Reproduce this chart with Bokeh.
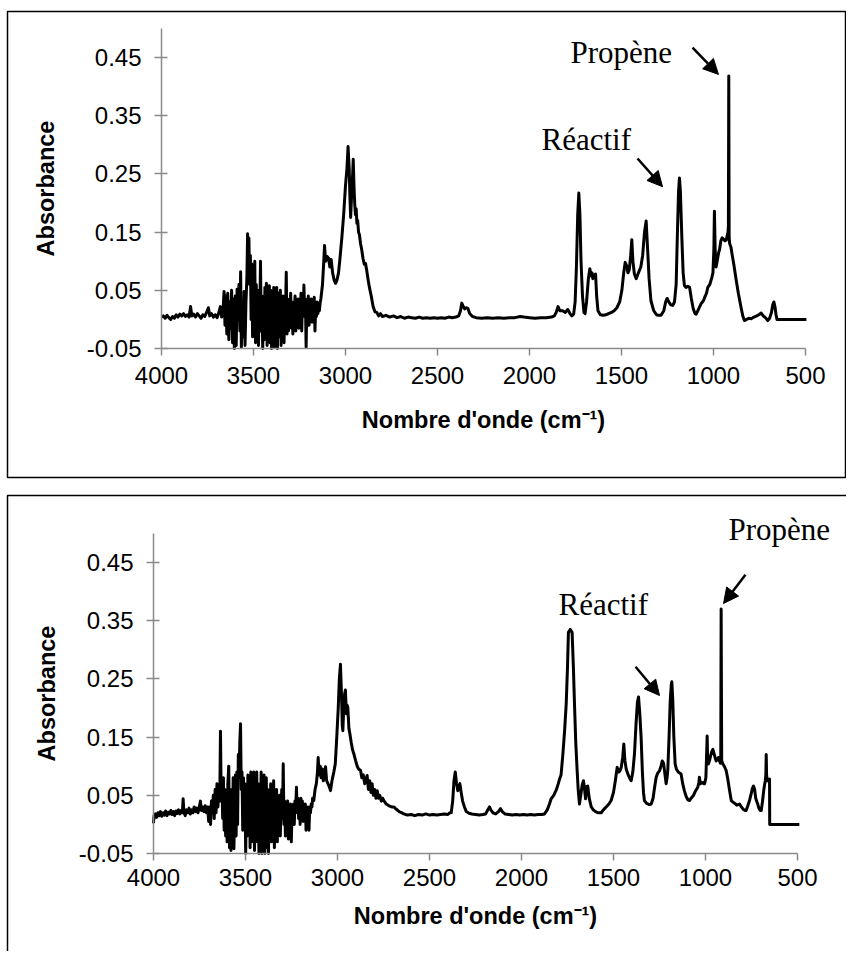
from bokeh.plotting import figure
from bokeh.layouts import column
from bokeh.models import (Range1d, FixedTicker, PrintfTickFormatter, Label, Arrow,
                          NormalHead, BoxAnnotation, LinearAxis)
from bokeh.embed import file_html
from bokeh.resources import INLINE

# ---------------- data ----------------
x_ticks = [4000, 3500, 3000, 2500, 2000, 1500, 1000, 500]
y_ticks = [-0.05, 0.05, 0.15, 0.25, 0.35, 0.45]
x_bounds = (500, 4000)
y_bounds = (-0.05, 0.5)
x_label = "Nombre d'onde (cm\u207b\u00b9)"
y_label = "Absorbance"
annot_product = "Propène"
annot_reagent = "Réactif"

# (wavenumber cm-1, absorbance)
top_spectrum = [
    (4000, 0.004), (3990, 0.006), (3980, 0.002), (3970, 0.007), (3960, 0.003), (3950, 0.000),
    (3940, 0.005), (3930, 0.002), (3920, 0.008), (3910, 0.004), (3900, 0.009), (3890, 0.006),
    (3880, 0.010), (3870, 0.005), (3860, 0.008), (3850, 0.004), (3842, 0.022), (3835, 0.006),
    (3825, 0.009), (3815, 0.004), (3805, 0.010), (3795, 0.006), (3785, 0.002), (3775, 0.008),
    (3765, 0.005), (3755, 0.012), (3745, 0.020), (3738, 0.006), (3728, 0.010), (3718, 0.004),
    (3708, 0.008), (3698, 0.003), (3690, 0.010), (3680, 0.022), (3673, 0.004), (3666, 0.012),
    (3660, 0.048), (3655, -0.010), (3650, 0.040), (3645, -0.025), (3640, 0.045), (3634, -0.035),
    (3629, 0.030), (3624, -0.015), (3619, 0.050), (3614, -0.040), (3609, 0.035), (3604, -0.050),
    (3599, 0.040), (3594, -0.045), (3589, 0.052), (3584, 0.000), (3579, 0.060), (3574, -0.020),
    (3570, 0.082), (3566, -0.048), (3561, 0.020), (3556, -0.030), (3551, 0.048), (3546, -0.045),
    (3541, 0.030), (3536, 0.070), (3532, 0.147), (3528, 0.100), (3525, 0.140), (3521, 0.060),
    (3517, 0.110), (3513, 0.000), (3509, 0.095), (3505, -0.030), (3501, 0.080), (3497, 0.020),
    (3493, 0.100), (3489, -0.040), (3485, 0.060), (3481, -0.010), (3477, 0.050), (3473, -0.045),
    (3469, 0.040), (3465, 0.020), (3462, 0.100), (3458, -0.020), (3454, 0.040), (3450, -0.050),
    (3446, 0.030), (3442, -0.035), (3438, 0.055), (3434, 0.000), (3430, 0.062), (3426, -0.045),
    (3422, 0.045), (3418, 0.010), (3414, 0.058), (3410, -0.040), (3406, 0.050), (3402, -0.050),
    (3398, 0.045), (3394, 0.005), (3390, 0.055), (3386, -0.048), (3382, 0.040), (3378, -0.010),
    (3374, 0.055), (3370, -0.050), (3366, 0.030), (3362, 0.045), (3358, -0.030), (3354, 0.050),
    (3350, -0.045), (3346, 0.035), (3342, -0.005), (3338, 0.040), (3334, -0.040), (3330, 0.030),
    (3326, 0.010), (3322, 0.081), (3318, -0.025), (3314, 0.035), (3310, -0.020), (3306, 0.030),
    (3302, 0.005), (3298, 0.045), (3294, -0.015), (3290, 0.030), (3286, -0.025), (3282, 0.025),
    (3278, 0.010), (3274, 0.040), (3270, -0.020), (3266, 0.025), (3262, 0.000), (3258, 0.035),
    (3254, -0.015), (3250, 0.030), (3246, 0.010), (3242, 0.045), (3238, -0.020), (3234, 0.030),
    (3230, 0.005), (3226, 0.059), (3222, 0.010), (3218, 0.035), (3214, -0.048), (3210, 0.030),
    (3206, 0.015), (3202, 0.040), (3198, -0.010), (3194, 0.030), (3190, 0.005), (3186, 0.035),
    (3182, -0.005), (3178, 0.030), (3174, 0.020), (3170, 0.038), (3166, -0.020), (3162, 0.020),
    (3158, 0.005), (3154, 0.030), (3150, 0.010), (3146, 0.025), (3142, 0.015), (3138, 0.028),
    (3134, 0.035), (3125, 0.060), (3118, 0.100), (3114, 0.127), (3108, 0.100), (3100, 0.108),
    (3092, 0.105), (3085, 0.090), (3078, 0.103), (3070, 0.080), (3062, 0.068), (3054, 0.062),
    (3046, 0.068), (3038, 0.080), (3030, 0.105), (3020, 0.140), (3010, 0.180), (3000, 0.230),
    (2992, 0.260), (2986, 0.297), (2980, 0.260), (2976, 0.210), (2972, 0.175), (2966, 0.220),
    (2961, 0.250), (2958, 0.275), (2954, 0.230), (2950, 0.200), (2946, 0.180), (2942, 0.190),
    (2938, 0.165), (2934, 0.170), (2929, 0.150), (2924, 0.145), (2918, 0.130), (2912, 0.120),
    (2905, 0.105), (2898, 0.095), (2891, 0.096), (2885, 0.085), (2878, 0.070), (2870, 0.055),
    (2860, 0.040), (2850, 0.022), (2840, 0.013), (2830, 0.012), (2820, 0.006), (2810, 0.010),
    (2800, 0.005), (2780, 0.007), (2760, 0.004), (2740, 0.006), (2720, 0.003), (2700, 0.005),
    (2680, 0.002), (2660, 0.004), (2640, 0.003), (2620, 0.002), (2600, 0.004), (2580, 0.002),
    (2560, 0.003), (2540, 0.002), (2520, 0.003), (2500, 0.002), (2480, 0.003), (2460, 0.002),
    (2440, 0.004), (2420, 0.003), (2400, 0.004), (2385, 0.006), (2375, 0.015), (2368, 0.028),
    (2360, 0.022), (2352, 0.018), (2345, 0.020), (2335, 0.019), (2325, 0.010), (2310, 0.005),
    (2290, 0.003), (2260, 0.002), (2230, 0.003), (2200, 0.002), (2170, 0.003), (2140, 0.002),
    (2110, 0.003), (2080, 0.003), (2050, 0.005), (2030, 0.004), (2000, 0.003), (1970, 0.002),
    (1940, 0.003), (1910, 0.003), (1880, 0.004), (1865, 0.006), (1855, 0.012), (1845, 0.022),
    (1835, 0.015), (1820, 0.015), (1805, 0.012), (1792, 0.017), (1780, 0.010), (1770, 0.006),
    (1760, 0.009), (1752, 0.030), (1745, 0.090), (1738, 0.180), (1732, 0.217), (1726, 0.180),
    (1720, 0.100), (1712, 0.040), (1704, 0.012), (1698, 0.010), (1690, 0.030), (1680, 0.070),
    (1672, 0.087), (1666, 0.075), (1660, 0.080), (1656, 0.070), (1648, 0.075), (1641, 0.078),
    (1635, 0.040), (1628, 0.015), (1615, 0.008), (1600, 0.007), (1585, 0.008), (1570, 0.010),
    (1555, 0.012), (1540, 0.015), (1525, 0.020), (1510, 0.030), (1498, 0.050), (1488, 0.080),
    (1480, 0.098), (1472, 0.092), (1465, 0.080), (1458, 0.085), (1450, 0.110), (1444, 0.137),
    (1438, 0.100), (1430, 0.078), (1420, 0.070), (1408, 0.080), (1395, 0.090), (1385, 0.110),
    (1375, 0.150), (1366, 0.169), (1358, 0.120), (1350, 0.070), (1340, 0.032), (1325, 0.015),
    (1310, 0.008), (1300, 0.007), (1285, 0.007), (1270, 0.015), (1260, 0.030), (1252, 0.036),
    (1243, 0.030), (1232, 0.025), (1222, 0.024), (1212, 0.030), (1203, 0.060), (1196, 0.150),
    (1190, 0.220), (1185, 0.243), (1180, 0.220), (1172, 0.140), (1165, 0.080), (1158, 0.058),
    (1150, 0.055), (1140, 0.057), (1130, 0.055), (1120, 0.035), (1110, 0.018), (1100, 0.010),
    (1094, 0.009), (1085, 0.015), (1075, 0.022), (1067, 0.027), (1055, 0.032), (1045, 0.040),
    (1038, 0.045), (1031, 0.055), (1020, 0.060), (1010, 0.071), (1003, 0.080), (998, 0.120),
    (995, 0.186), (991, 0.120), (986, 0.090), (980, 0.100), (972, 0.115), (967, 0.120),
    (960, 0.135), (953, 0.140), (945, 0.138), (938, 0.135), (931, 0.136), (925, 0.145),
    (921, 0.150), (919, 0.160), (917, 0.418), (915, 0.140), (912, 0.130), (905, 0.124),
    (898, 0.110), (890, 0.095), (877, 0.068), (865, 0.045), (850, 0.020), (840, 0.005),
    (832, -0.002), (820, 0.000), (808, 0.002), (795, 0.001), (780, 0.004), (765, 0.006),
    (750, 0.009), (741, 0.011), (730, 0.006), (718, 0.003), (705, -0.002), (695, 0.002),
    (685, 0.012), (678, 0.025), (672, 0.030), (666, 0.022), (660, 0.008), (655, 0.000),
    (651, 0.000), (620, 0.000), (560, 0.000), (495, 0.000),
]

# (wavenumber cm-1, absorbance)
bottom_spectrum = [
    (4000, 0.002), (3997, 0.015), (3990, 0.018), (3983, 0.012), (3976, 0.020), (3969, 0.015),
    (3962, 0.022), (3955, 0.014), (3948, 0.020), (3941, 0.016), (3934, 0.023), (3927, 0.015),
    (3920, 0.021), (3913, 0.018), (3906, 0.024), (3899, 0.017), (3892, 0.022), (3885, 0.015),
    (3878, 0.023), (3871, 0.019), (3864, 0.025), (3857, 0.018), (3850, 0.024), (3843, 0.020),
    (3839, 0.044), (3835, 0.022), (3828, 0.015), (3821, 0.025), (3814, 0.020), (3807, 0.028),
    (3800, 0.018), (3793, 0.025), (3786, 0.020), (3779, 0.030), (3772, 0.022), (3765, 0.028),
    (3758, 0.020), (3751, 0.030), (3745, 0.040), (3740, 0.024), (3733, 0.030), (3726, 0.022),
    (3719, 0.032), (3712, 0.020), (3706, 0.030), (3700, 0.005), (3695, 0.030), (3690, 0.000),
    (3685, 0.040), (3680, 0.020), (3675, 0.050), (3670, 0.010), (3665, 0.060), (3660, 0.020),
    (3655, 0.070), (3650, 0.030), (3645, 0.060), (3640, 0.040), (3636, 0.160), (3632, 0.040),
    (3628, 0.070), (3624, 0.010), (3620, 0.080), (3616, -0.010), (3612, 0.060), (3608, -0.020),
    (3604, 0.050), (3600, -0.030), (3596, 0.070), (3591, 0.100), (3587, -0.040), (3583, 0.040),
    (3579, -0.045), (3575, 0.060), (3571, -0.030), (3567, 0.080), (3563, -0.042), (3559, 0.030),
    (3555, 0.085), (3551, -0.020), (3547, 0.090), (3543, 0.000), (3539, 0.120), (3535, 0.080),
    (3531, 0.140), (3527, 0.173), (3523, 0.060), (3519, 0.090), (3515, -0.010), (3511, 0.080),
    (3507, 0.020), (3503, 0.070), (3499, -0.050), (3495, 0.060), (3491, -0.020), (3487, 0.085),
    (3483, 0.000), (3479, 0.070), (3475, -0.040), (3471, 0.090), (3467, -0.030), (3463, 0.060),
    (3459, 0.010), (3455, 0.090), (3451, -0.045), (3447, 0.080), (3443, -0.010), (3439, 0.090),
    (3435, -0.030), (3431, 0.070), (3427, -0.050), (3423, 0.060), (3419, 0.000), (3415, 0.090),
    (3411, -0.050), (3407, 0.075), (3403, -0.020), (3399, 0.085), (3395, -0.050), (3391, 0.040),
    (3387, 0.080), (3383, -0.040), (3379, 0.060), (3375, -0.050), (3371, 0.050), (3367, 0.000),
    (3363, 0.070), (3359, -0.030), (3355, 0.060), (3351, -0.010), (3347, 0.075), (3343, -0.040),
    (3339, 0.050), (3335, 0.010), (3331, 0.060), (3327, -0.030), (3323, 0.040), (3319, 0.000),
    (3315, 0.050), (3311, -0.020), (3307, 0.030), (3303, 0.060), (3299, 0.010), (3295, 0.104),
    (3291, 0.000), (3287, 0.040), (3283, -0.020), (3279, 0.030), (3275, 0.010), (3271, 0.040),
    (3267, -0.025), (3263, 0.030), (3259, 0.000), (3255, 0.035), (3251, -0.030), (3247, 0.025),
    (3243, 0.010), (3239, 0.035), (3235, 0.000), (3231, 0.040), (3227, 0.030), (3223, 0.064),
    (3219, 0.020), (3215, 0.045), (3211, 0.010), (3207, 0.040), (3203, 0.000), (3199, 0.045),
    (3195, 0.020), (3191, 0.040), (3187, 0.005), (3183, 0.030), (3179, 0.020), (3175, 0.035),
    (3171, -0.010), (3167, 0.030), (3163, 0.000), (3159, 0.030), (3155, -0.010), (3151, 0.030),
    (3147, 0.020), (3143, 0.035), (3139, 0.030), (3135, 0.045), (3129, 0.041), (3122, 0.060),
    (3115, 0.070), (3109, 0.090), (3105, 0.115), (3100, 0.085), (3094, 0.100), (3089, 0.080),
    (3083, 0.095), (3077, 0.075), (3071, 0.090), (3065, 0.099), (3059, 0.075), (3052, 0.070),
    (3045, 0.065), (3038, 0.058), (3030, 0.075), (3020, 0.090), (3012, 0.104), (3004, 0.150),
    (2996, 0.200), (2990, 0.250), (2984, 0.275), (2978, 0.220), (2974, 0.170), (2971, 0.161),
    (2966, 0.200), (2961, 0.225), (2957, 0.231), (2952, 0.190), (2948, 0.205), (2944, 0.201),
    (2938, 0.165), (2933, 0.156), (2925, 0.140), (2918, 0.128), (2911, 0.121), (2902, 0.110),
    (2893, 0.100), (2885, 0.095), (2875, 0.093), (2868, 0.080), (2860, 0.085), (2852, 0.070),
    (2846, 0.078), (2839, 0.084), (2832, 0.060), (2825, 0.075), (2818, 0.055), (2812, 0.070),
    (2805, 0.050), (2798, 0.060), (2791, 0.045), (2784, 0.058), (2777, 0.045), (2770, 0.050),
    (2762, 0.040), (2755, 0.045), (2748, 0.041), (2735, 0.035), (2720, 0.032), (2705, 0.030),
    (2694, 0.030), (2680, 0.026), (2665, 0.022), (2650, 0.020), (2640, 0.018), (2620, 0.016),
    (2600, 0.017), (2580, 0.015), (2560, 0.017), (2540, 0.016), (2520, 0.018), (2500, 0.016),
    (2480, 0.017), (2460, 0.016), (2440, 0.017), (2420, 0.018), (2400, 0.017), (2390, 0.020),
    (2382, 0.020), (2374, 0.040), (2367, 0.075), (2360, 0.090), (2353, 0.070), (2346, 0.058),
    (2340, 0.065), (2335, 0.070), (2328, 0.055), (2320, 0.040), (2310, 0.030), (2300, 0.022),
    (2285, 0.019), (2270, 0.018), (2250, 0.017), (2230, 0.016), (2210, 0.017), (2195, 0.018),
    (2185, 0.024), (2174, 0.030), (2165, 0.024), (2155, 0.020), (2140, 0.018), (2125, 0.022),
    (2114, 0.027), (2105, 0.022), (2090, 0.018), (2070, 0.017), (2050, 0.016), (2030, 0.017),
    (2010, 0.016), (1990, 0.017), (1970, 0.016), (1950, 0.017), (1930, 0.016), (1910, 0.017),
    (1890, 0.017), (1875, 0.018), (1860, 0.025), (1848, 0.035), (1839, 0.044), (1825, 0.050),
    (1810, 0.060), (1800, 0.070), (1793, 0.078), (1785, 0.085), (1775, 0.121), (1766, 0.160),
    (1757, 0.207), (1750, 0.270), (1745, 0.330), (1735, 0.335), (1725, 0.330), (1718, 0.270),
    (1712, 0.207), (1705, 0.140), (1698, 0.095), (1692, 0.060), (1685, 0.035), (1678, 0.050),
    (1670, 0.068), (1663, 0.075), (1657, 0.060), (1652, 0.044), (1646, 0.065), (1640, 0.066),
    (1632, 0.045), (1621, 0.030), (1610, 0.025), (1598, 0.022), (1585, 0.020), (1567, 0.020),
    (1555, 0.025), (1540, 0.030), (1525, 0.035), (1513, 0.041), (1500, 0.055), (1490, 0.075),
    (1480, 0.098), (1472, 0.090), (1465, 0.092), (1458, 0.098), (1450, 0.115), (1444, 0.138),
    (1438, 0.110), (1431, 0.095), (1420, 0.085), (1410, 0.078), (1404, 0.075), (1395, 0.090),
    (1386, 0.121), (1378, 0.170), (1370, 0.210), (1364, 0.219), (1357, 0.190), (1350, 0.150),
    (1343, 0.090), (1337, 0.055), (1332, 0.041), (1320, 0.036), (1305, 0.034), (1295, 0.035),
    (1285, 0.045), (1276, 0.065), (1268, 0.081), (1260, 0.088), (1250, 0.092), (1242, 0.100),
    (1235, 0.109), (1228, 0.105), (1220, 0.085), (1214, 0.070), (1209, 0.080), (1205, 0.093),
    (1198, 0.150), (1192, 0.210), (1186, 0.240), (1183, 0.245), (1178, 0.215), (1172, 0.150),
    (1165, 0.104), (1158, 0.095), (1148, 0.090), (1140, 0.088), (1133, 0.087), (1124, 0.070),
    (1115, 0.058), (1105, 0.048), (1095, 0.042), (1087, 0.041), (1078, 0.045), (1065, 0.050),
    (1055, 0.057), (1042, 0.064), (1036, 0.072), (1033, 0.081), (1028, 0.070), (1018, 0.072),
    (1010, 0.070), (1005, 0.070), (998, 0.080), (993, 0.130), (991, 0.152), (988, 0.105),
    (984, 0.104), (978, 0.110), (972, 0.118), (966, 0.125), (960, 0.129), (954, 0.122),
    (948, 0.115), (942, 0.109), (935, 0.112), (930, 0.115), (924, 0.109), (919, 0.105),
    (917, 0.108), (915, 0.370), (912, 0.110), (906, 0.104), (898, 0.100), (888, 0.093),
    (880, 0.080), (870, 0.060), (860, 0.041), (850, 0.038), (840, 0.036), (830, 0.033),
    (815, 0.035), (805, 0.030), (795, 0.026), (785, 0.024), (779, 0.024), (770, 0.032),
    (760, 0.042), (750, 0.055), (745, 0.062), (739, 0.066), (733, 0.060), (727, 0.045),
    (720, 0.038), (716, 0.035), (710, 0.028), (703, 0.024), (697, 0.024), (690, 0.040),
    (683, 0.060), (678, 0.070), (675, 0.075), (672, 0.085), (670, 0.120), (668, 0.085),
    (664, 0.075), (661, 0.075), (652, 0.078), (651, 0.000), (600, 0.000), (490, 0.000),
]

AXIS_GREY = "#8a8a8a"
PX_PER_WN = 644.0 / 3500.0     # horizontal scale of both panels
PX_PER_ABS = 582.0             # vertical scale of both panels


def make_panel(points, width, height, axis_x_px, axis_y_px,
               x_std, x_lab_std, y_lab_std):
    """Frame covers the whole canvas; the axes sit at fixed data locations."""
    def wn_at(px):
        return 4000 - (px - axis_x_px) / PX_PER_WN

    def ab_at(py):
        return (axis_y_px - py) / PX_PER_ABS - 0.05

    p = figure(width=width, height=height, title=None,
               x_range=Range1d(wn_at(0), wn_at(width)),
               y_range=Range1d(ab_at(height), ab_at(0)),
               x_axis_location=None, y_axis_location=None,
               output_backend="svg", toolbar_location=None, min_border=0)
    p.grid.visible = False
    p.outline_line_color = None
    p.background_fill_color = "white"
    p.border_fill_color = "white"
    p.frame_align = False

    wn = [pt[0] for pt in points]
    ab = [pt[1] for pt in points]
    p.line(wn, ab, line_color="black", line_width=3, line_join="round")

    xa = LinearAxis(fixed_location=y_bounds[0], bounds=x_bounds,
                    ticker=FixedTicker(ticks=x_ticks),
                    formatter=PrintfTickFormatter(format="%d"),
                    axis_label=x_label)
    ya = LinearAxis(fixed_location=4000, bounds=y_bounds,
                    ticker=FixedTicker(ticks=y_ticks),
                    formatter=PrintfTickFormatter(format="%.2f"),
                    axis_label=y_label)
    for ax in (xa, ya):
        ax.axis_line_color = AXIS_GREY
        ax.axis_line_width = 1.5
        ax.major_tick_line_color = AXIS_GREY
        ax.major_tick_line_width = 1.5
        ax.minor_tick_line_color = None
        ax.major_tick_out = 7
        ax.major_label_text_font = "Liberation Sans"
        ax.major_label_text_font_size = "24px"
        ax.major_label_text_color = "black"
        ax.axis_label_text_font = "Liberation Sans"
        ax.axis_label_text_font_style = "bold"
        ax.axis_label_text_font_size = "23.5px"
        ax.axis_label_text_color = "black"
    xa.major_tick_in = 0
    xa.major_label_standoff = x_std
    xa.axis_label_standoff = x_lab_std
    ya.major_tick_in = 6
    ya.major_label_standoff = 13
    ya.axis_label_standoff = y_lab_std
    p.add_layout(xa, "below")
    p.add_layout(ya, "left")
    return p, wn_at, ab_at


def add_note(p, text, x, y):
    p.add_layout(Label(x=x, y=y, text=text, text_font="Liberation Serif",
                       text_font_size="31px", text_color="black",
                       text_align="left", text_baseline="alphabetic"))


def add_arrow(p, xs, ys, xe, ye):
    p.add_layout(Arrow(end=NormalHead(size=15, fill_color="black", line_color="black"),
                       x_start=xs, y_start=ys, x_end=xe, y_end=ye,
                       line_color="black", line_width=2.5))


W = 846
H_TOP = 488
H_BOT = 463

# ---------------- upper panel ----------------
p1, wn1, ab1 = make_panel(top_spectrum, W, H_TOP, 161, 348, 11, 20, 25)
add_note(p1, annot_product, 1777, 0.458)
add_arrow(p1, 1114, 0.467, 973, 0.421)
add_note(p1, annot_reagent, 1935, 0.309)
add_arrow(p1, 1413, 0.2765, 1277, 0.228)
p1.add_layout(BoxAnnotation(left=wn1(7), right=wn1(845), top=ab1(11), bottom=ab1(477),
                            fill_color=None, fill_alpha=0,
                            line_color="black", line_alpha=1.0, line_width=1.5))

# ---------------- lower panel ----------------
p2, wn2, ab2 = make_panel(bottom_spectrum, W, H_BOT, 153, 365, 8, 14, 16)
add_note(p2, annot_product, 875, 0.507)
add_arrow(p2, 783, 0.429, 902, 0.3796)
add_note(p2, annot_reagent, 1799, 0.377)
add_arrow(p2, 1380, 0.271, 1250, 0.2215)
p2.add_layout(BoxAnnotation(left=wn2(7), right=wn2(W + 50), top=ab2(7), bottom=ab2(H_BOT + 50),
                            fill_color=None, fill_alpha=0,
                            line_color="black", line_alpha=1.0, line_width=1.5))

layout = column(p1, p2, spacing=0)
open("out.html", "w").write(file_html(layout, INLINE))
